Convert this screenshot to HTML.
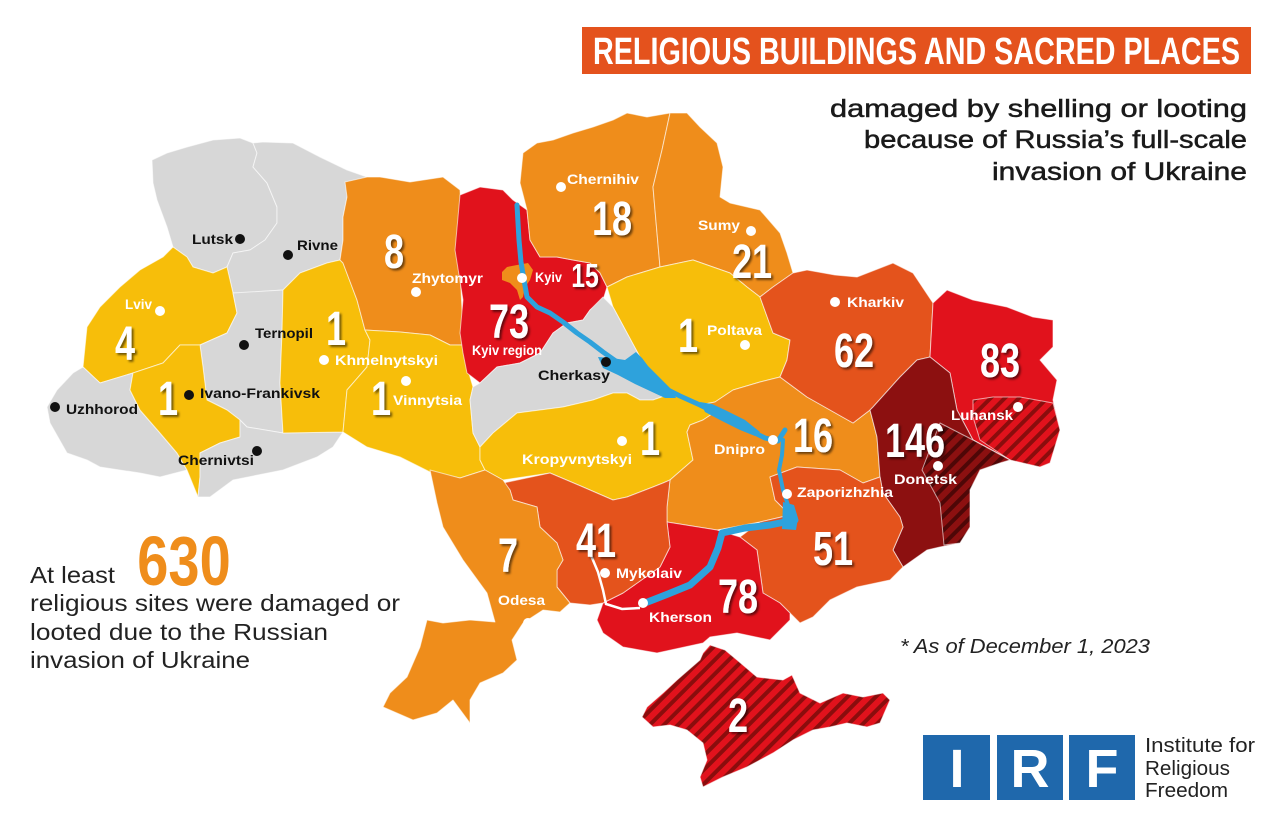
<!DOCTYPE html>
<html>
<head>
<meta charset="utf-8">
<style>
  html,body{margin:0;padding:0;background:#fff;}
  svg{display:block;}
  .lbw{font-family:"Liberation Sans",sans-serif;font-weight:bold;font-size:14px;fill:#fff;}
  .lbb{font-family:"Liberation Sans",sans-serif;font-weight:bold;font-size:14px;fill:#111;}
  .num{font-family:"Liberation Sans",sans-serif;font-weight:bold;font-size:48px;fill:#fff;}
  .sub{font-family:"Liberation Sans",sans-serif;font-size:25px;fill:#1a1a1a;stroke:#1a1a1a;stroke-width:0.5px;}
  .left{font-family:"Liberation Sans",sans-serif;font-size:23px;fill:#222;}
</style>
</head>
<body>
<svg width="1280" height="818" viewBox="0 0 1280 818" xmlns="http://www.w3.org/2000/svg">
  <defs>
    <pattern id="hR" patternUnits="userSpaceOnUse" width="10" height="10" patternTransform="rotate(45)">
      <rect width="10" height="10" fill="#e1121c"/>
      <rect width="4" height="10" fill="#8a0d0d"/>
    </pattern>
    <pattern id="hD" patternUnits="userSpaceOnUse" width="10" height="10" patternTransform="rotate(45)">
      <rect width="10" height="10" fill="#8c1010"/>
      <rect width="4" height="10" fill="#4e0707"/>
    </pattern>
    <filter id="sh" x="-20%" y="-20%" width="140%" height="140%">
      <feDropShadow dx="2" dy="2" stdDeviation="1" flood-color="#000" flood-opacity="0.55"/>
    </filter>
  </defs>

  <rect width="1280" height="818" fill="#fff"/>

  <!-- Title banner -->
  <rect x="582" y="27" width="669" height="47" fill="#e4521d"/>
  <text x="593" y="64" font-family="Liberation Sans, sans-serif" font-weight="bold" font-size="38" fill="#fff" textLength="647" lengthAdjust="spacingAndGlyphs">RELIGIOUS BUILDINGS AND SACRED PLACES</text>

  <!-- Subtitle -->
  <text class="sub" x="1247" y="117" text-anchor="end" textLength="417" lengthAdjust="spacingAndGlyphs">damaged by shelling or looting</text>
  <text class="sub" x="1247" y="148" text-anchor="end" textLength="383" lengthAdjust="spacingAndGlyphs">because of Russia’s full-scale</text>
  <text class="sub" x="1247" y="180" text-anchor="end" textLength="255" lengthAdjust="spacingAndGlyphs">invasion of Ukraine</text>

  <g stroke="#ffffff" stroke-opacity="0.6" stroke-width="1" stroke-linejoin="round">
    <!-- Volyn -->
    <polygon fill="#d7d7d7" points="152,160 167,153 187,147 213,140 240,138 253,143 257,153 253,167 267,183 277,207 277,223 265,240 250,250 233,253 227,267 213,273 193,267 187,257 173,247 167,227 157,200 153,183"/>
    <!-- Rivne -->
    <polygon fill="#d7d7d7" points="253,143 263,142 293,143 320,157 347,170 367,177 360,187 347,197 343,217 343,240 340,260 327,263 300,273 283,290 240,293 233,293 230,280 227,267 233,253 250,250 265,240 277,223 277,207 267,183 253,167 257,153"/>
    <!-- Lviv -->
    <polygon fill="#f7be0a" points="173,247 187,257 193,267 213,273 227,267 230,280 233,293 237,313 227,333 200,345 180,345 163,363 133,373 100,383 83,367 85,347 87,327 100,307 120,287 140,270 163,257"/>
    <!-- Ternopil -->
    <polygon fill="#d7d7d7" points="233,293 283,290 282,333 280,383 283,433 247,427 240,420 227,410 207,400 203,367 200,345 227,333 237,313"/>
    <!-- Zakarpattia -->
    <polygon fill="#d7d7d7" points="47,407 57,390 73,373 83,367 100,383 133,373 130,390 140,410 160,433 177,453 187,470 160,477 140,473 100,467 87,460 67,453 50,423"/>
    <!-- Ivano-Frankivsk -->
    <polygon fill="#f7be0a" points="133,373 163,363 180,345 200,345 203,367 207,400 227,410 240,420 240,437 220,443 200,453 200,477 198,497 187,470 177,453 160,433 140,410 130,390"/>
    <!-- Chernivtsi -->
    <polygon fill="#d7d7d7" points="220,443 240,437 240,420 247,427 283,433 343,432 333,447 317,457 283,470 233,480 210,497 198,497 200,477 200,453"/>
    <!-- Khmelnytskyi -->
    <polygon fill="#f7be0a" points="283,290 300,273 327,263 340,260 343,263 357,300 365,330 370,340 367,367 347,390 343,432 283,433 280,383 282,333"/>
    <!-- Zhytomyr -->
    <polygon fill="#ef8d1b" points="345,182 367,177 380,177 410,182 443,177 460,190 462,230 460,270 462,310 465,345 450,345 430,335 400,332 365,330 357,300 343,263 340,260 343,240 343,217 347,197"/>
    <!-- Vinnytsia -->
    <polygon fill="#f7be0a" points="365,330 400,332 430,335 450,345 465,345 467,367 473,387 470,400 473,433 480,447 480,460 485,470 460,478 430,472 400,457 367,447 343,432 347,390 367,367 370,340"/>
    <!-- Kyiv region -->
    <polygon fill="#e1121c" points="460,195 480,187 503,190 513,200 527,210 530,240 540,257 557,257 573,260 590,263 600,273 607,287 603,300 590,310 583,320 567,323 553,333 540,353 520,363 497,367 480,383 467,373 463,353 460,333 463,300 455,250"/>
    <!-- Chernihiv -->
    <polygon fill="#ef8d1b" points="523,153 537,143 553,140 573,133 593,127 613,120 627,113 647,117 670,113 662,150 653,187 657,233 660,267 627,277 607,287 600,273 590,263 573,260 557,257 540,257 530,240 527,210 520,183"/>
    <!-- Sumy -->
    <polygon fill="#ef8d1b" points="670,113 687,113 700,127 717,143 723,167 720,197 730,203 760,210 780,233 787,253 793,273 773,287 760,297 747,287 730,273 693,260 660,267 657,233 653,187 662,150"/>
    <!-- Poltava -->
    <polygon fill="#f7be0a" points="607,287 627,277 660,267 693,260 730,273 747,287 760,297 773,333 790,340 787,360 780,377 760,382 733,390 715,402 700,405 680,396 653,377 640,357 627,333 613,307"/>
    <!-- Cherkasy -->
    <polygon fill="#d7d7d7" points="473,387 480,383 497,367 520,363 540,353 553,333 567,323 583,320 590,310 603,297 613,307 627,333 640,357 653,377 673,393 653,400 640,400 627,393 613,393 593,400 563,407 540,410 517,413 493,433 480,447 473,433 470,400"/>
    <!-- Kirovohrad -->
    <polygon fill="#f7be0a" points="480,447 493,433 517,413 540,410 563,407 593,400 613,393 627,393 640,400 653,400 673,393 680,396 700,405 715,412 703,420 690,425 687,432 693,460 670,480 663,483 653,487 627,497 613,500 583,487 550,473 503,480 485,470 480,460"/>
    <!-- Dnipro -->
    <polygon fill="#ef8d1b" points="700,405 715,402 733,390 760,382 780,377 807,397 853,423 870,410 877,437 880,477 863,483 840,470 797,467 770,477 775,500 790,515 760,522 717,530 667,522 667,507 670,480 693,460 687,432 690,425 703,420 715,412"/>
    <!-- Kharkiv -->
    <polygon fill="#e4531c" points="760,297 773,287 793,273 807,270 835,275 857,277 893,263 913,273 933,303 930,357 917,360 900,377 873,407 870,410 853,423 807,397 780,377 787,360 790,340 773,333"/>
    <!-- Luhansk -->
    <polygon fill="#e1121c" points="933,303 947,290 973,300 1007,307 1033,317 1053,320 1053,347 1040,360 1057,380 1053,400 1060,430 1050,463 1040,467 1010,460 973,440 957,410 950,373 930,357"/>
    <polygon fill="url(#hR)" points="973,400 993,397 1020,397 1053,403 1060,430 1050,463 1040,467 1010,460 980,440 973,417"/>
    <!-- Donetsk -->
    <polygon fill="#8c1010" points="870,410 873,407 900,377 917,360 930,357 950,373 957,410 973,440 1010,460 1000,463 980,470 970,490 970,527 960,543 940,547 927,550 903,567 893,550 903,527 900,517 883,493 880,477 877,437"/>
    <polygon fill="url(#hD)" points="940,423 973,440 1010,460 1000,463 980,470 970,490 970,527 960,543 944,545 940,503 933,490 922,470 927,457"/>
    <!-- Zaporizhzhia -->
    <polygon fill="#e4531c" points="770,477 797,467 840,470 863,483 880,477 883,493 900,517 903,527 893,550 903,567 890,580 857,587 830,600 813,617 800,623 790,613 780,603 763,593 757,550 740,537 760,522 790,515 775,500"/>
    <!-- Kherson -->
    <polygon fill="#e1121c" points="667,522 717,530 740,537 757,550 763,593 780,603 790,613 790,620 770,640 737,633 710,637 703,643 657,653 623,647 603,633 597,620 603,603 623,593 660,567 670,547"/>
    <!-- Mykolaiv -->
    <polygon fill="#e4531c" points="503,483 550,473 583,487 613,500 627,497 653,487 663,483 670,480 667,507 667,522 670,547 660,567 623,593 603,603 590,605 570,603 557,587 557,570 563,560 557,543 540,527 537,507 513,500 510,490"/>
    <!-- Odesa -->
    <polygon fill="#ef8d1b" points="430,470 460,478 485,470 503,480 510,490 513,500 537,507 540,527 557,543 563,560 557,570 557,587 570,603 560,612 543,610 523,623 512,640 517,660 503,673 480,683 470,700 470,723 453,700 437,713 413,720 383,707 390,693 407,677 420,647 427,620 443,623 470,620 495,622 487,593 463,560 443,527 437,503"/>
    <!-- Crimea -->
    <polygon fill="url(#hR)" points="703,653 710,645 725,650 737,660 757,677 783,680 792,675 800,693 820,703 843,693 863,697 883,693 890,700 880,723 867,727 847,723 830,727 813,730 793,740 773,753 747,767 723,777 703,787 700,777 707,760 703,743 687,730 670,725 653,727 642,717 647,707 663,693 677,680 700,660"/>
  </g>

  <!-- small white estuaries -->
  <polyline points="590,553 598,572 603,590 606,604 622,609 640,608" fill="none" stroke="#fff" stroke-width="2.5"/>
  <polygon points="720,640 745,636 770,642 785,655 790,672 778,668 760,662 740,652" fill="#fff"/>

  <!-- Kyiv city -->
  <polygon fill="#ef8d1b" points="502,272 507,267 517,265 528,263 533,270 530,280 525,287 523,297 520,300 517,290 510,283 502,280"/>

  <!-- Rivers -->
  <g fill="none" stroke="#2ea2dc" stroke-linecap="round" stroke-linejoin="round">
    <polyline stroke-width="5" points="517,205 519,240 521,262 524,280 527,297 537,307 550,313 563,322 577,333 590,342 603,352 620,364 640,375 660,386 680,396 700,405 720,415 745,428 765,438 778,441 785,430"/>
    <polyline stroke-width="4" points="783,440 782,455 779,470 783,490 788,505 790,518"/>
    <polyline stroke-width="7" points="795,520 770,525 745,528 722,533 718,548 710,567 690,585 668,594 645,603"/>
  </g>
  <!-- Kremenchuk reservoir -->
  <polygon fill="#2ea2dc" points="598,357 612,358 625,360 636,352 642,358 648,366 660,378 672,390 676,398 665,398 650,391 635,384 618,375 603,368"/>
  <!-- Kamianske reservoir widening -->
  <polygon fill="#2ea2dc" points="700,402 712,404 725,410 745,420 760,432 755,436 740,430 720,420 705,412"/>
  <!-- Zaporizhzhia widening -->
  <polygon fill="#2ea2dc" points="783,502 794,505 798,518 796,530 782,529"/>

  <!-- City dots -->
  <g fill="#111">
    <circle cx="240" cy="239" r="5"/>
    <circle cx="288" cy="255" r="5"/>
    <circle cx="244" cy="345" r="5"/>
    <circle cx="189" cy="395" r="5"/>
    <circle cx="55" cy="407" r="5"/>
    <circle cx="257" cy="451" r="5"/>
    <circle cx="606" cy="362" r="5"/>
  </g>
  <g fill="#fff">
    <circle cx="160" cy="311" r="5"/>
    <circle cx="416" cy="292" r="5"/>
    <circle cx="324" cy="360" r="5"/>
    <circle cx="406" cy="381" r="5"/>
    <circle cx="522" cy="278" r="5"/>
    <circle cx="561" cy="187" r="5"/>
    <circle cx="751" cy="231" r="5"/>
    <circle cx="745" cy="345" r="5"/>
    <circle cx="835" cy="302" r="5"/>
    <circle cx="622" cy="441" r="5"/>
    <circle cx="773" cy="440" r="5"/>
    <circle cx="787" cy="494" r="5"/>
    <circle cx="1018" cy="407" r="5"/>
    <circle cx="938" cy="466" r="5"/>
    <circle cx="605" cy="573" r="5"/>
    <circle cx="643" cy="603" r="5"/>
    <circle cx="528" cy="623" r="5"/>
  </g>

  <!-- City labels -->
  <text class="lbb" x="192" y="244" textLength="41" lengthAdjust="spacingAndGlyphs">Lutsk</text>
  <text class="lbb" x="297" y="250" textLength="41" lengthAdjust="spacingAndGlyphs">Rivne</text>
  <text class="lbb" x="255" y="338" textLength="58" lengthAdjust="spacingAndGlyphs">Ternopil</text>
  <text class="lbb" x="200" y="398" textLength="120" lengthAdjust="spacingAndGlyphs">Ivano-Frankivsk</text>
  <text class="lbb" x="66" y="414" textLength="72" lengthAdjust="spacingAndGlyphs">Uzhhorod</text>
  <text class="lbb" x="178" y="465" textLength="76" lengthAdjust="spacingAndGlyphs">Chernivtsi</text>
  <text class="lbb" x="538" y="380" textLength="72" lengthAdjust="spacingAndGlyphs">Cherkasy</text>

  <text class="lbw" x="125" y="309" textLength="27" lengthAdjust="spacingAndGlyphs">Lviv</text>
  <text class="lbw" x="412" y="283" textLength="71" lengthAdjust="spacingAndGlyphs">Zhytomyr</text>
  <text class="lbw" x="335" y="365" textLength="103" lengthAdjust="spacingAndGlyphs">Khmelnytskyi</text>
  <text class="lbw" x="393" y="405" textLength="69" lengthAdjust="spacingAndGlyphs">Vinnytsia</text>
  <text class="lbw" x="535" y="282" textLength="27" lengthAdjust="spacingAndGlyphs">Kyiv</text>
  <text class="lbw" x="472" y="355" textLength="70" lengthAdjust="spacingAndGlyphs">Kyiv region</text>
  <text class="lbw" x="567" y="184" textLength="72" lengthAdjust="spacingAndGlyphs">Chernihiv</text>
  <text class="lbw" x="698" y="230" textLength="42" lengthAdjust="spacingAndGlyphs">Sumy</text>
  <text class="lbw" x="707" y="335" textLength="55" lengthAdjust="spacingAndGlyphs">Poltava</text>
  <text class="lbw" x="847" y="307" textLength="57" lengthAdjust="spacingAndGlyphs">Kharkiv</text>
  <text class="lbw" x="522" y="464" textLength="110" lengthAdjust="spacingAndGlyphs">Kropyvnytskyi</text>
  <text class="lbw" x="714" y="454" textLength="51" lengthAdjust="spacingAndGlyphs">Dnipro</text>
  <text class="lbw" x="797" y="497" textLength="96" lengthAdjust="spacingAndGlyphs">Zaporizhzhia</text>
  <text class="lbw" x="951" y="420" textLength="62" lengthAdjust="spacingAndGlyphs">Luhansk</text>
  <text class="lbw" x="894" y="484" textLength="63" lengthAdjust="spacingAndGlyphs">Donetsk</text>
  <text class="lbw" x="616" y="578" textLength="66" lengthAdjust="spacingAndGlyphs">Mykolaiv</text>
  <text class="lbw" x="649" y="622" textLength="63" lengthAdjust="spacingAndGlyphs">Kherson</text>
  <text class="lbw" x="498" y="605" textLength="47" lengthAdjust="spacingAndGlyphs">Odesa</text>

  <!-- Numbers -->
  <g class="num" text-anchor="middle" filter="url(#sh)">
    <text transform="translate(125,360) scale(0.75,1)">4</text>
    <text transform="translate(168,415) scale(0.75,1)">1</text>
    <text transform="translate(336,345) scale(0.75,1)">1</text>
    <text transform="translate(381,415) scale(0.75,1)">1</text>
    <text transform="translate(394,268) scale(0.75,1)">8</text>
    <text transform="translate(509,338) scale(0.75,1)">73</text>
    <text transform="translate(585,287) scale(0.75,1)" font-size="33">15</text>
    <text transform="translate(612,235) scale(0.75,1)">18</text>
    <text transform="translate(752,278) scale(0.75,1)">21</text>
    <text transform="translate(688,352) scale(0.75,1)">1</text>
    <text transform="translate(854,367) scale(0.75,1)">62</text>
    <text transform="translate(1000,377) scale(0.75,1)">83</text>
    <text transform="translate(915,457) scale(0.75,1)">146</text>
    <text transform="translate(813,452) scale(0.75,1)">16</text>
    <text transform="translate(650,455) scale(0.75,1)">1</text>
    <text transform="translate(508,572) scale(0.75,1)">7</text>
    <text transform="translate(596,557) scale(0.75,1)">41</text>
    <text transform="translate(738,613) scale(0.75,1)">78</text>
    <text transform="translate(833,565) scale(0.75,1)">51</text>
    <text transform="translate(738,732) scale(0.75,1)">2</text>
  </g>

  <!-- Left summary -->
  <text class="left" x="30" y="583" textLength="85" lengthAdjust="spacingAndGlyphs">At least</text>
  <text transform="translate(184,585) scale(0.8,1)" text-anchor="middle" font-family="Liberation Sans, sans-serif" font-weight="bold" font-size="70" fill="#ef8d1b">630</text>
  <text class="left" x="30" y="611" textLength="370" lengthAdjust="spacingAndGlyphs">religious sites were damaged or</text>
  <text class="left" x="30" y="640" textLength="298" lengthAdjust="spacingAndGlyphs">looted due to the Russian</text>
  <text class="left" x="30" y="668" textLength="220" lengthAdjust="spacingAndGlyphs">invasion of Ukraine</text>

  <!-- Footnote -->
  <text x="900" y="653" font-family="Liberation Sans, sans-serif" font-style="italic" font-size="20" fill="#222" textLength="250" lengthAdjust="spacingAndGlyphs">* As of December 1, 2023</text>

  <!-- IRF logo -->
  <rect x="923" y="735" width="67" height="65" fill="#1f68ac"/>
  <rect x="997" y="735" width="66" height="65" fill="#1f68ac"/>
  <rect x="1069" y="735" width="66" height="65" fill="#1f68ac"/>
  <g font-family="Liberation Sans, sans-serif" font-weight="bold" font-size="54" fill="#fff" text-anchor="middle">
    <text x="957" y="787">I</text>
    <text x="1030" y="787">R</text>
    <text x="1102" y="787">F</text>
  </g>
  <g font-family="Liberation Sans, sans-serif" font-size="20" fill="#222">
    <text x="1145" y="752" textLength="110" lengthAdjust="spacingAndGlyphs">Institute for</text>
    <text x="1145" y="775" textLength="85" lengthAdjust="spacingAndGlyphs">Religious</text>
    <text x="1145" y="797" textLength="83" lengthAdjust="spacingAndGlyphs">Freedom</text>
  </g>
</svg>
</body>
</html>
